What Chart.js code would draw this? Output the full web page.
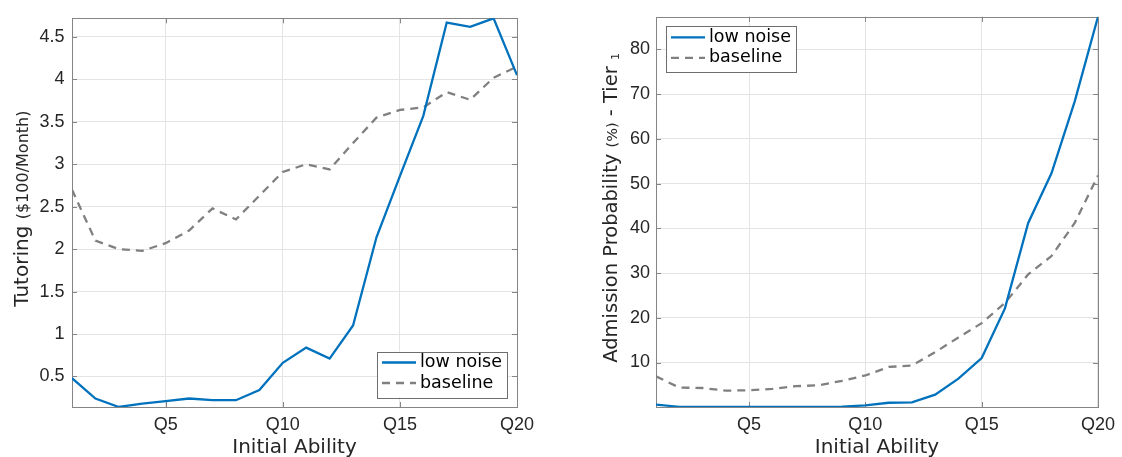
<!DOCTYPE html>
<html>
<head>
<meta charset="utf-8">
<title>Tutoring and admission by initial ability</title>
<script src="https://cdn.jsdelivr.net/npm/chart.js@4"></script>
<style>
    html, body { margin: 0; padding: 0; background: #fff; }
    #wrap { position: relative; width: 1122px; height: 457px; overflow: hidden; }
    canvas { position: absolute; top: 0; }
</style>
</head>
<body>
<div id="wrap">
    <canvas id="tutorChart" width="561" height="457" style="left:0"></canvas>
    <canvas id="admitChart" width="561" height="457" style="left:561px"></canvas>
</div>
<script>
// ability quantiles on the x axis
const abilityLevels = [1, 2, 3, 4, 5, 6, 7, 8, 9, 10, 11, 12, 13, 14, 15, 16, 17, 18, 19, 20];
const quantileLabels = ['Q1', 'Q2', 'Q3', 'Q4', 'Q5', 'Q6', 'Q7', 'Q8', 'Q9', 'Q10',
                        'Q11', 'Q12', 'Q13', 'Q14', 'Q15', 'Q16', 'Q17', 'Q18', 'Q19', 'Q20'];
const xTicks = [5, 10, 15, 20];

// left panel: tutoring, $100 / month
const tutoringLowNoise = [0.48, 0.24, 0.14, 0.18, 0.21, 0.24, 0.22, 0.22, 0.34, 0.66,
                          0.84, 0.71, 1.10, 2.14, 2.86, 3.57, 4.67, 4.62, 4.72, 4.05];
const tutoringBaseline = [2.70, 2.10, 2.00, 1.98, 2.07, 2.22, 2.48, 2.35, 2.63, 2.91,
                          3.00, 2.94, 3.25, 3.55, 3.64, 3.67, 3.85, 3.76, 4.02, 4.15];
const tutoringTicks = [0.5, 1, 1.5, 2, 2.5, 3, 3.5, 4, 4.5];

// right panel: admission probability (%), tier 1
const admitLowNoise = [0.6, 0.1, 0.05, 0.05, 0.05, 0.05, 0.1, 0.1, 0.15, 0.4,
                       1.0, 1.1, 2.8, 6.4, 11.0, 22.1, 41.2, 52.3, 68.4, 87.3];
const admitBaseline = [6.9, 4.4, 4.3, 3.7, 3.8, 4.1, 4.7, 4.9, 5.9, 7.1,
                       9.0, 9.3, 12.3, 15.6, 18.8, 23.3, 29.7, 33.8, 41.2, 51.8];
const admitTicks = [10, 20, 30, 40, 50, 60, 70, 80];

const seriesNames = ['low noise', 'baseline'];

document.addEventListener('DOMContentLoaded', () => {
    const AXIS_GRAY = '#858585';
    const TEXT = '#262626';
    const TITLE_FONT = '"DejaVu Sans", sans-serif';
    Chart.defaults.font.family = '"Liberation Sans", Arial, sans-serif';

    function drawRotated(ctx, parts, x, yMid) {
        ctx.save();
        const widths = parts.map(p => { ctx.font = p.font; return ctx.measureText(p.text).width; });
        const total = widths.reduce((s, w) => s + w, 0);
        ctx.translate(x, yMid);
        ctx.rotate(-Math.PI / 2);
        ctx.textAlign = 'left';
        ctx.textBaseline = 'alphabetic';
        ctx.fillStyle = TEXT;
        let cx = -total / 2;
        parts.forEach((p, i) => {
            ctx.font = p.font;
            ctx.fillText(p.text, cx, p.shift || 0);
            cx += widths[i];
        });
        ctx.restore();
    }

    // box, inward tick marks, axis titles and legend, MATLAB style
    function framePlugin(cfg) {
        return {
            id: 'frame',
            beforeDatasetsDraw(chart) {
                const { ctx, chartArea: a, scales } = chart;
                ctx.save();
                ctx.strokeStyle = AXIS_GRAY;
                ctx.lineWidth = 1;
                ctx.beginPath();
                scales.y.ticks.forEach(t => {
                    const y = Math.round(scales.y.getPixelForValue(t.value)) + 0.5;
                    ctx.moveTo(a.left, y); ctx.lineTo(a.left + 5, y);
                    ctx.moveTo(a.right, y); ctx.lineTo(a.right - 5, y);
                });
                scales.x.ticks.forEach(t => {
                    const x = Math.round(scales.x.getPixelForValue(t.value)) + 0.5;
                    ctx.moveTo(x, a.bottom); ctx.lineTo(x, a.bottom - 5);
                    ctx.moveTo(x, a.top); ctx.lineTo(x, a.top + 5);
                });
                ctx.stroke();
                ctx.strokeRect(Math.round(a.left) + 0.5, Math.round(a.top) + 0.5,
                               Math.round(a.right - a.left), Math.round(a.bottom - a.top));
                ctx.restore();
            },
            afterDraw(chart) {
                const { ctx, chartArea: a } = chart;
                drawRotated(ctx, cfg.yTitle, cfg.yTitleX, (a.top + a.bottom) / 2 - 4);

                ctx.save();
                ctx.font = '20px ' + TITLE_FONT;
                ctx.fillStyle = TEXT;
                ctx.textAlign = 'center';
                ctx.textBaseline = 'alphabetic';
                ctx.fillText('Initial Ability', (a.left + a.right) / 2, 452.5);

                // legend box
                const w = 130, h = 46;
                const left = cfg.legendCorner === 'br' ? a.right - 10 - w : a.left + 10;
                const top = cfg.legendCorner === 'br' ? a.bottom - 9.5 - h : a.top + 9.5;
                ctx.fillStyle = '#fff';
                ctx.fillRect(left, top, w, h);
                ctx.strokeStyle = '#6e6e6e';
                ctx.lineWidth = 1;
                ctx.strokeRect(Math.round(left) + 0.5, Math.round(top) + 0.5, w, h);
                ctx.font = '17.5px ' + TITLE_FONT;
                ctx.textAlign = 'left';
                ctx.textBaseline = 'middle';
                chart.data.datasets.forEach((ds, i) => {
                    const y = top + 11 + i * 20.5;
                    ctx.strokeStyle = ds.borderColor;
                    ctx.lineWidth = ds.borderWidth;
                    ctx.setLineDash(ds.borderDash || []);
                    ctx.beginPath();
                    ctx.moveTo(left + 5, y); ctx.lineTo(left + 39, y);
                    ctx.stroke();
                    ctx.setLineDash([]);
                    ctx.fillStyle = '#000';
                    ctx.fillText(ds.label, left + 43, y);
                });
                ctx.restore();
            }
        };
    }

    function makeChart(id, low, base, yTicks, layout) {
        const all = low.concat(base);
        const ctx = document.getElementById(id).getContext('2d');
        return new Chart(ctx, {
            type: 'line',
            data: {
                datasets: [{
                    label: seriesNames[0],
                    data: abilityLevels.map((x, i) => ({ x, y: low[i] })),
                    borderColor: '#0072BD',
                    borderWidth: 2.3
                }, {
                    label: seriesNames[1],
                    data: abilityLevels.map((x, i) => ({ x, y: base[i] })),
                    borderColor: '#808080',
                    borderWidth: 2.3,
                    borderDash: [8, 6]
                }]
            },
            options: {
                responsive: false,
                animation: false,
                layout: { padding: { top: 14, right: layout.rightPad, left: 0, bottom: 0 } },
                elements: { point: { radius: 0 }, line: { tension: 0 } },
                plugins: {
                    legend: { display: false },
                    tooltip: { enabled: false }
                },
                scales: {
                    x: {
                        type: 'linear',
                        min: abilityLevels[0],
                        max: abilityLevels[abilityLevels.length - 1],
                        afterBuildTicks: s => { s.ticks = xTicks.map(v => ({ value: v })); },
                        afterFit: s => { s.height = 50; },
                        grid: { color: '#e4e4e4', drawTicks: false },
                        border: { display: false },
                        ticks: {
                            padding: 7,
                            color: TEXT,
                            font: { size: 18 },
                            maxRotation: 0,
                            callback: v => quantileLabels[v - 1]
                        }
                    },
                    y: {
                        min: Math.min(...all),
                        max: Math.max(...all),
                        afterBuildTicks: s => { s.ticks = yTicks.map(v => ({ value: v })); },
                        afterFit: s => { s.width = layout.yWidth; },
                        grid: { color: '#e4e4e4', drawTicks: false },
                        border: { display: false },
                        ticks: {
                            padding: layout.tickPad,
                            color: TEXT,
                            font: { size: 18 },
                            callback: v => String(v)
                        }
                    }
                }
            },
            plugins: [framePlugin(layout.frame)]
        });
    }

    makeChart('tutorChart', tutoringLowNoise, tutoringBaseline, tutoringTicks, {
        rightPad: 44, yWidth: 72, tickPad: 7.5,
        frame: {
            legendCorner: 'br',
            yTitleX: 27.5,
            yTitle: [
                { text: 'Tutoring ', font: '20px ' + TITLE_FONT },
                { text: '($100/Month)', font: '16px ' + TITLE_FONT }
            ]
        }
    });

    makeChart('admitChart', admitLowNoise, admitBaseline, admitTicks, {
        rightPad: 20, yWidth: 95, tickPad: 6,
        frame: {
            legendCorner: 'tl',
            yTitleX: 56,
            yTitle: [
                { text: 'Admission Probability ', font: '19.5px ' + TITLE_FONT },
                { text: '(%)', font: '14.5px ' + TITLE_FONT },
                { text: ' - Tier ', font: '19.5px ' + TITLE_FONT },
                { text: '1', font: '11px ' + TITLE_FONT, shift: 2 }
            ]
        }
    });
});
</script>
</body>
</html>
